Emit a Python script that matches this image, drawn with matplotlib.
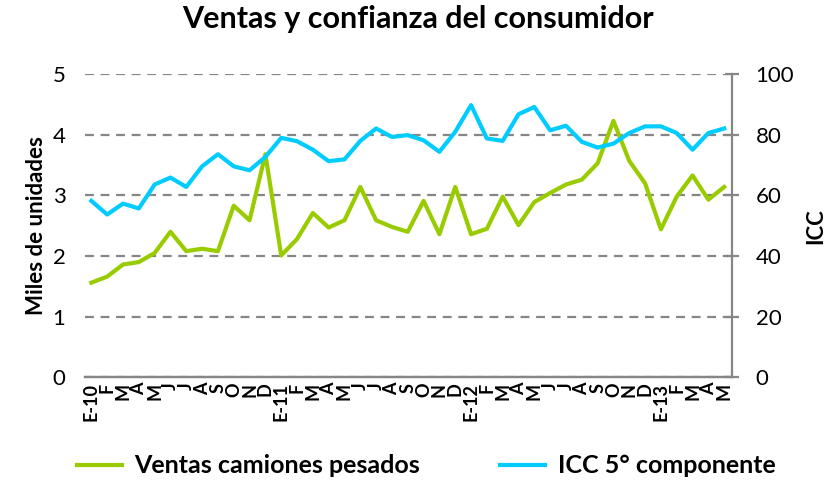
import matplotlib
matplotlib.use('Agg')
import matplotlib.pyplot as plt

plt.rcParams['font.family'] = ['Lato', 'DejaVu Sans']

meses = ['E-10', 'F', 'M', 'A', 'M', 'J', 'J', 'A', 'S', 'O', 'N', 'D',
         'E-11', 'F', 'M', 'A', 'M', 'J', 'J', 'A', 'S', 'O', 'N', 'D',
         'E-12', 'F', 'M', 'A', 'M', 'J', 'J', 'A', 'S', 'O', 'N', 'D',
         'E-13', 'F', 'M', 'A', 'M']

# miles de unidades
ventas = [1.56, 1.66, 1.86, 1.90, 2.05, 2.40, 2.08, 2.12, 2.08, 2.83, 2.59, 3.68,
          2.01, 2.28, 2.71, 2.47, 2.59, 3.14, 2.59, 2.48, 2.40, 2.91, 2.36, 3.14,
          2.36, 2.45, 2.98, 2.51, 2.89, 3.04, 3.18, 3.26, 3.53, 4.23, 3.57, 3.20,
          2.44, 2.98, 3.33, 2.93, 3.14]

# ICC 5o componente
icc = [58.2, 53.7, 57.3, 55.7, 63.6, 65.9, 62.8, 69.6, 73.6, 69.6, 68.3, 72.7,
       79.0, 77.9, 75.1, 71.3, 71.9, 78.0, 82.1, 79.3, 79.9, 78.2, 74.4, 81.0,
       89.8, 78.8, 78.0, 86.8, 89.2, 81.5, 83.0, 77.7, 75.8, 77.1, 80.6, 82.8,
       82.8, 80.6, 75.1, 80.6, 82.1]

verde = '#99cc00'
azul = '#00ccff'
gris = '#868686'

fig = plt.figure(figsize=(8.36, 4.95), dpi=100)
ax = fig.add_axes([0.1017, 0.238, 0.774, 0.612])
ax2 = ax.twinx()

x = list(range(len(meses)))
l1, = ax.plot(x, ventas, color=verde, lw=3, label='Ventas camiones pesados', zorder=3)
l2, = ax2.plot(x, icc, color=azul, lw=3, label='ICC 5° componente', zorder=3)

ax.set_xlim(-0.4, 40.5)
ax.set_ylim(0, 5)
ax2.set_ylim(0, 100)
ax.set_yticks(range(6))
ax2.set_yticks(range(0, 101, 20))

ax.grid(axis='y', color=gris, ls=(0, (4, 3)), lw=1.6)
ax.set_axisbelow(True)

for a in (ax, ax2):
    for s in ('top', 'left'):
        a.spines[s].set_visible(False)
    a.spines['bottom'].set_color(gris)
    a.spines['bottom'].set_linewidth(1.6)
ax.spines['right'].set_visible(False)
ax2.spines['right'].set_color(gris)
ax2.spines['right'].set_linewidth(1.6)

ax.set_xticks(x)
ax.set_xticklabels(meses, rotation=90, fontsize=13, fontweight='bold')
ax.tick_params(axis='x', length=0, pad=4)
ax.tick_params(axis='y', length=0, labelsize=16, pad=14)
ax2.tick_params(axis='y', direction='inout', length=10, width=1.6, color=gris,
                labelsize=16, pad=12)

ax.set_ylabel('Miles de unidades', fontsize=16, fontweight='bold', labelpad=4)
ax2.set_ylabel('ICC', fontsize=16, fontweight='bold', labelpad=8)

fig.suptitle('Ventas y confianza del consumidor', fontsize=22, fontweight='bold',
             x=0.5, y=0.99)

fig.legend(handles=[l1, l2], loc='lower center', ncol=2, frameon=False,
           bbox_to_anchor=(0.51, -0.01), prop={'size': 18, 'weight': 'bold'},
           handlelength=1.8, handletextpad=0.5, columnspacing=3.2)

fig.savefig('out.png', dpi=100)
